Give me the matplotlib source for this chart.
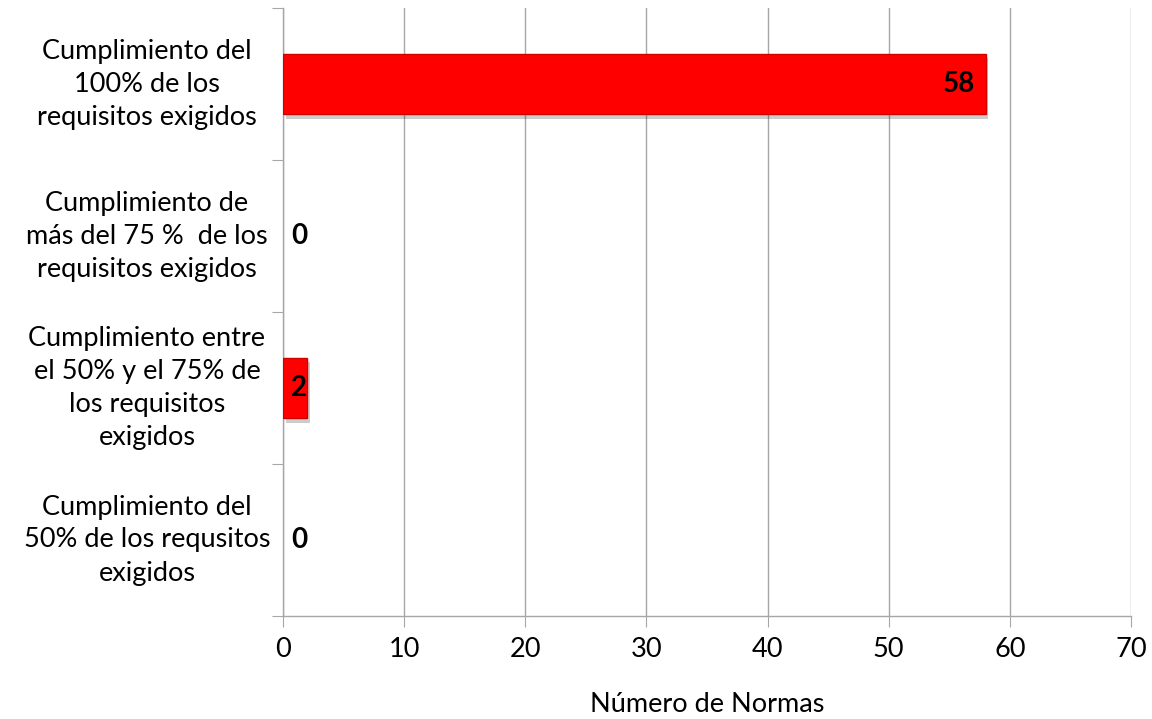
import matplotlib
matplotlib.use("Agg")
import matplotlib.pyplot as plt
import matplotlib.patheffects as pe
from matplotlib.transforms import blended_transform_factory

categorias = [
    "Cumplimiento del\n100% de los\nrequisitos exigidos",
    "Cumplimiento de\nmás del 75 %  de los\nrequisitos exigidos",
    "Cumplimiento entre\nel 50% y el 75% de\nlos requisitos\nexigidos",
    "Cumplimiento del\n50% de los requsitos\nexigidos",
]
valores = [58, 0, 2, 0]
xticks = [0, 10, 20, 30, 40, 50, 60, 70]

plt.rcParams["font.family"] = ["Lato", "DejaVu Sans"]
plt.rcParams["font.size"] = 19.5

fig = plt.figure(figsize=(11.52, 7.19), dpi=100)
ax = fig.add_axes([283 / 1152, 1 - 616 / 719, (1131 - 283) / 1152, (616 - 8) / 719])

gris = "#a6a6a6"
pos = list(range(len(valores)))
bars = ax.barh(pos, valores, height=0.4, color="#ff0000", edgecolor="#d40000",
               linewidth=1, zorder=3)
for b, v in zip(bars, valores):
    if v == 0:
        b.set_visible(False)
        continue
    b.set_path_effects([pe.SimplePatchShadow(offset=(2, -3), shadow_rgbFace="#000000", alpha=0.2),
                        pe.Normal()])

for p, v in zip(pos, valores):
    ax.text(max(v - 0.9, 2.0), p, str(v), ha="right", va="center",
            fontweight="bold", fontsize=20, zorder=5)

ax.set_xlim(0, 70)
ax.set_ylim(3.5, -0.5)
ax.set_xticks(xticks)
ax.set_yticks([-0.5, 0.5, 1.5, 2.5, 3.5])
ax.set_yticklabels([])
ax.tick_params(axis="y", length=8, color=gris, direction="out")
ax.tick_params(axis="x", length=8, color=gris, direction="out", pad=7)
ax.xaxis.grid(True, color=gris, linewidth=1, zorder=0)
ax.set_axisbelow(True)
for s in ["top", "right"]:
    ax.spines[s].set_visible(False)
for s in ["left", "bottom"]:
    ax.spines[s].set_color(gris)
    ax.spines[s].set_linewidth(1)

trans = blended_transform_factory(fig.transFigure, ax.transData)
for p, c in zip(pos, categorias):
    ax.text(147 / 1152, p, c, transform=trans, ha="center", va="center",
            multialignment="center", linespacing=1.4)

ax.set_xlabel("Número de Normas", labelpad=22)

fig.savefig("out.png", dpi=100)
